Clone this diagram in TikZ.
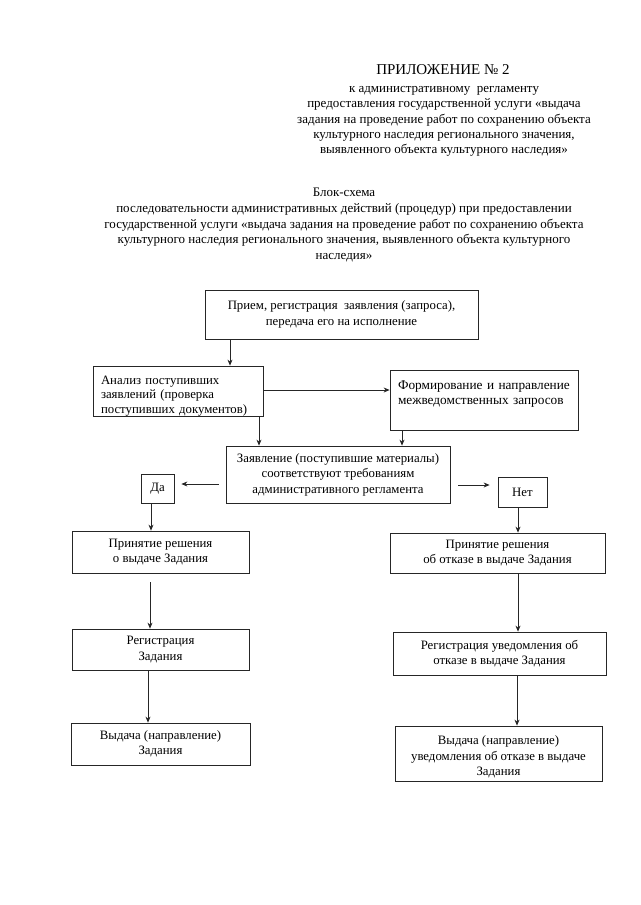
\documentclass[tikz,border=0pt]{standalone}
\usepackage{fontspec}
\setmainfont{Liberation Serif}
\usetikzlibrary{arrows.meta,calc}
\begin{document}
\begin{tikzpicture}[x=1pt,y=-1pt,
  box/.style={draw=black!85, line width=0.8pt, inner sep=2pt, align=center,
    font=\fontsize{12.8}{15.5}\selectfont},
  lbox/.style={box, align=left, inner xsep=8pt},
  arr/.style={draw=black!85, line width=0.7pt, -{Stealth[length=6pt,width=5pt]}},
  txt/.style={align=center, inner sep=0pt, font=\fontsize{13}{15.2}\selectfont}]
\useasboundingbox (0,0) rectangle (640,905);
\fill[white] (0,0) rectangle (640,905);

% header
\node[txt, font=\fontsize{15}{18}\selectfont] (title) at (443,70) {ПРИЛОЖЕНИЕ № 2};
\node[txt] (sub) at (444,121.5) {к административному\ \ регламенту\\
предоставления государственной услуги «выдача\\
задания на проведение работ по сохранению объекта\\
культурного наследия регионального значения,\\
выявленного объекта культурного наследия»};
\node[txt, font=\fontsize{13}{15.6}\selectfont] (head) at (344,225) {Блок-схема\\
последовательности административных действий (процедур) при предоставлении\\
государственной услуги «выдача задания на проведение работ по сохранению объекта\\
культурного наследия регионального значения, выявленного объекта культурного\\
наследия»};

% boxes
\node[box, minimum width=273, minimum height=49] (b1) at (341.5,314.5)
  {Прием, регистрация\ \ заявления (запроса),\\ передача его на исполнение};
\node[lbox, text width=154, minimum height=50, inner ysep=0pt,
  font=\fontsize{12.8}{14.5}\selectfont] (b2) at (178,391)
  {\rule{0pt}{18pt}Анализ поступивших\\ заявлений (проверка\\ поступивших документов)};
\node[lbox, inner xsep=8pt, text width=172, minimum height=60,
  font=\fontsize{13.3}{15}\selectfont] (b3) at (484,400)
  {Формирование и направление\\ межведомственных запросов\\ \mbox{}};
\node[box, minimum width=224, minimum height=57] (b4) at (338,474.5)
  {Заявление (поступившие материалы)\\ соответствуют требованиям\\ административного регламента};
\node[box, minimum width=33, minimum height=29] (da) at (157.5,488.5) {Да};
\node[box, minimum width=49, minimum height=30] (net) at (522.5,492) {Нет};
\node[box, minimum width=177, minimum height=42] (b5) at (160.5,552)
  {Принятие решения\\ о выдаче Задания};
\node[box, minimum width=215, minimum height=40] (b6) at (497.5,553)
  {Принятие решения\\ об отказе в выдаче Задания};
\node[box, minimum width=177, minimum height=41] (b7) at (160.5,649.5)
  {Регистрация\\ Задания};
\node[box, minimum width=213, minimum height=43] (b8) at (499.5,653.5)
  {Регистрация уведомления об\\ отказе в выдаче Задания};
\node[box, minimum width=179, minimum height=42] (b9) at (160.5,744)
  {Выдача (направление)\\ Задания};
\node[box, minimum width=207, minimum height=55] (b10) at (498.5,753.5)
  {\rule{0pt}{16pt}Выдача (направление)\\ уведомления об отказе в выдаче\\ Задания};

% connector guides
\coordinate (c1) at (230,0);
\coordinate (c2) at (0,390);
\coordinate (c3) at (259,0);
\coordinate (c4) at (402,0);
\coordinate (c5) at (0,484);
\coordinate (c6) at (0,485);
\coordinate (c7) at (151,0);
\coordinate (c8) at (518,0);
\coordinate (c9) at (150,0);
\coordinate (c10) at (148,0);
\coordinate (c11) at (517,0);

% connectors
\draw[arr] (b1.south -| c1) -- (b2.north -| c1);
\draw[arr] (b2.east |- c2) -- (b3.west |- c2);
\draw[arr] (b2.south -| c3) -- (b4.north -| c3);
\draw[arr] (b3.south -| c4) -- (b4.north -| c4);
\draw[arr, shorten <=7pt, shorten >=7pt] (b4.west |- c5) -- (da.east |- c5);
\draw[arr, shorten <=8pt, shorten >=8pt] (b4.east |- c6) -- (net.west |- c6);
\draw[arr] (da.south -| c7) -- (b5.north -| c7);
\draw[arr] (net.south -| c8) -- (b6.north -| c8);
\draw[arr, shorten <=9pt] (b5.south -| c9) -- (b7.north -| c9);
\draw[arr] (b6.south -| c8) -- (b8.north -| c8);
\draw[arr] (b7.south -| c10) -- (b9.north -| c10);
\draw[arr] (b8.south -| c11) -- (b10.north -| c11);
\end{tikzpicture}
\end{document}
